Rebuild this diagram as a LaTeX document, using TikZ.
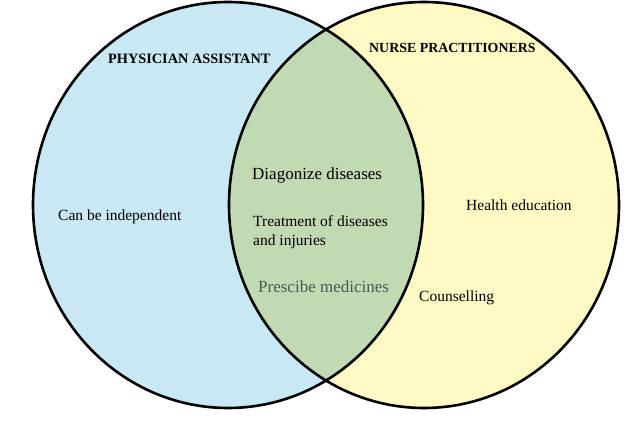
\documentclass[tikz,border=0pt]{standalone}
\usepackage{fontspec}
\setmainfont{Liberation Serif}
\definecolor{pablue}{HTML}{C8E8F4}
\definecolor{npyellow}{HTML}{FFF9C4}
\definecolor{bothgreen}{HTML}{C2DAB4}
\definecolor{rxtext}{HTML}{3E5E52}
\begin{document}
\begin{tikzpicture}[x=1pt,y=-1pt,
  setline/.style={line width=2.6pt,draw=black},
  head/.style={inner sep=0pt,anchor=west,font=\fontsize{14.3}{17}\selectfont\bfseries},
  item/.style={inner sep=0pt,anchor=west,font=\fontsize{15.5}{19}\selectfont},
  bigitem/.style={inner sep=0pt,anchor=west,font=\fontsize{17}{20}\selectfont}]
\useasboundingbox (0,0) rectangle (624,423);
% fills
\fill[pablue] (228,205) ellipse [x radius=195pt, y radius=203pt];
\fill[npyellow] (424,205) ellipse [x radius=195pt, y radius=203pt];
\begin{scope}
  \clip (228,205) ellipse [x radius=195pt, y radius=203pt];
  \fill[bothgreen] (424,205) ellipse [x radius=195pt, y radius=203pt];
\end{scope}
% outlines
\draw[setline] (228,205) ellipse [x radius=195pt, y radius=203pt];
\draw[setline] (424,205) ellipse [x radius=195pt, y radius=203pt];
% labels
\node[head] (pa) at (108,59) {PHYSICIAN ASSISTANT};
\node[head,font=\fontsize{13.9}{17}\selectfont\bfseries] (np) at (369,48) {NURSE PRACTITIONERS};
\node[item] (indep) at (58,217) {Can be independent};
\node[bigitem] (diag) at (252,175) {Diagonize diseases};
\node[item,align=left] (treat) at (253,232.5) {Treatment of diseases\\and injuries};
\node[bigitem,text=rxtext] (rx) at (258,287) {Prescibe medicines};
\node[item] (health) at (466,205) {Health education};
\node[item] (couns) at (419,298) {Counselling};
\end{tikzpicture}
\end{document}
